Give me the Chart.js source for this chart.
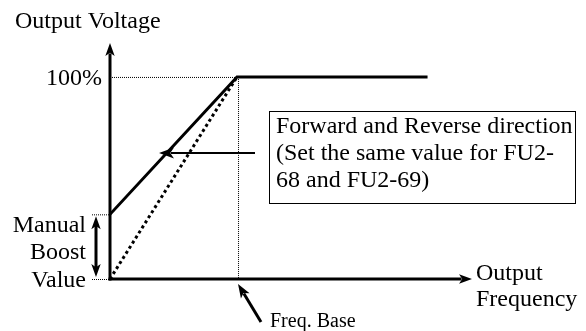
<!DOCTYPE html>
<html>
<head>
<meta charset="utf-8">
<script src="https://cdn.jsdelivr.net/npm/chart.js@4"></script>
<style>
  body { margin: 0; background: white; }
  canvas { display: block; }
</style>
</head>
<body>
<canvas id="chart" width="586" height="331"></canvas>
<script>
// frequency in % of base frequency, voltage in % of rated output
const boostFreq = [0, 100, 250]
const boostVolt = [32, 100, 100]
const linearFreq = [0, 100]
const linearVolt = [0, 100]
const boostValue = 32
const baseFreq = 100
const fullVolt = 100
const boxLines = ["Forward and Reverse direction", "(Set the same value for FU2-", "68 and FU2-69)"]

const toPoints = (xs, ys) => xs.map((x, i) => ({ x: x, y: ys[i] }))

const serif = "Liberation Serif, Times New Roman, serif"

function arrowHead(ctx, x, y, angle, size) {
  ctx.save()
  ctx.translate(x, y)
  ctx.rotate(angle)
  ctx.beginPath()
  ctx.moveTo(0, 0)
  ctx.lineTo(-size, -size * 0.36)
  ctx.lineTo(-size * 0.75, 0)
  ctx.lineTo(-size, size * 0.36)
  ctx.closePath()
  ctx.fill()
  ctx.restore()
}

function arrow(ctx, x1, y1, x2, y2, w, size) {
  const a = Math.atan2(y2 - y1, x2 - x1)
  ctx.lineWidth = w
  ctx.beginPath()
  ctx.moveTo(x1, y1)
  ctx.lineTo(x2 - Math.cos(a) * size * 0.8, y2 - Math.sin(a) * size * 0.8)
  ctx.stroke()
  arrowHead(ctx, x2, y2, a, size)
}

//Assi, guide e testi
const drawing = {
  id: "drawing",
  beforeDatasetsDraw(chart) {
    const { ctx, scales } = chart
    const x = scales.x, y = scales.y
    const x0 = x.getPixelForValue(0)
    const y0 = y.getPixelForValue(0)
    const xb = x.getPixelForValue(baseFreq)
    const yf = y.getPixelForValue(fullVolt)
    const yb = y.getPixelForValue(boostValue)
    ctx.save()
    ctx.strokeStyle = "black"
    ctx.fillStyle = "black"
    // dotted guides
    ctx.lineWidth = 1
    ctx.setLineDash([1, 1])
    ctx.beginPath()
    ctx.moveTo(x0 + 2, yf + 0.5); ctx.lineTo(xb, yf + 0.5)
    ctx.moveTo(xb + 1.5, yf); ctx.lineTo(xb + 1.5, y0)
    ctx.moveTo(x0 - 18, yb + 0.5); ctx.lineTo(x0, yb + 0.5)
    ctx.moveTo(x0 - 18, y0 + 0.5); ctx.lineTo(x0, y0 + 0.5)
    ctx.stroke()
    ctx.setLineDash([])
    // axes
    arrow(ctx, x0, y0 + 1.5, x0, chart.chartArea.top, 3, 13)
    arrow(ctx, x0 - 1.5, y0, chart.chartArea.right, y0, 3, 13)
    ctx.restore()
  },
  afterDatasetsDraw(chart) {
    const { ctx, scales } = chart
    const x = scales.x, y = scales.y
    const x0 = x.getPixelForValue(0)
    const y0 = y.getPixelForValue(0)
    const xb = x.getPixelForValue(baseFreq)
    const yf = y.getPixelForValue(fullVolt)
    const yb = y.getPixelForValue(boostValue)
    ctx.save()
    ctx.fillStyle = "black"
    ctx.strokeStyle = "black"
    // boost double arrow
    ctx.lineWidth = 3
    ctx.beginPath()
    ctx.moveTo(x0 - 14, yb + 10); ctx.lineTo(x0 - 14, y0 - 10)
    ctx.stroke()
    arrowHead(ctx, x0 - 14, yb + 2, -Math.PI / 2, 13)
    arrowHead(ctx, x0 - 14, y0 - 2, Math.PI / 2, 13)
    // pointer to the boost curve
    arrow(ctx, 255, 153, 159, 153, 2, 15)
    // freq base pointer
    arrow(ctx, 261, 322, xb + 1, y0 + 5, 3, 14)
    // text box
    ctx.lineWidth = 1
    ctx.fillStyle = "white"
    ctx.fillRect(269.5, 111.5, 306, 92)
    ctx.strokeRect(269.5, 111.5, 306, 92)
    ctx.fillStyle = "black"
    ctx.font = "24px " + serif
    ctx.textBaseline = "alphabetic"
    ctx.textAlign = "left"
    boxLines.forEach((t, i) => ctx.fillText(t, 276, 133 + i * 27))
    ctx.fillText("Output Voltage", 15, 28)
    ctx.fillText("Output", 476, 280)
    ctx.fillText("Frequency", 476, 306)
    ctx.textAlign = "right"
    ctx.fillText("100%", x0 - 8, yf + 8)
    ctx.fillText("Manual", 86, 232)
    ctx.fillText("Boost", 86, 259)
    ctx.fillText("Value", 86, 287)
    ctx.textAlign = "left"
    ctx.font = "20px " + serif
    ctx.fillText("Freq. Base", 270, 327)
    ctx.restore()
  },
}

new Chart(document.getElementById("chart"), {
  type: "scatter",
  plugins: [drawing],
  data: {
    datasets: [
      {
        data: toPoints(boostFreq, boostVolt),
        showLine: true,
        borderColor: "black",
        borderWidth: 3,
        pointRadius: 0,
      },
      {
        data: toPoints(linearFreq, linearVolt),
        showLine: true,
        borderColor: "black",
        borderWidth: 3,
        borderDash: [3, 3],
        pointRadius: 0,
      },
    ],
  },
  options: {
    responsive: false,
    animation: false,
    layout: { padding: { left: 110, right: 114, top: 43, bottom: 52 } },
    plugins: { legend: { display: false }, tooltip: { enabled: false } },
    scales: {
      x: { type: "linear", min: 0, max: 285, display: false },
      y: { type: "linear", min: 0, max: 116.8, display: false },
    },
  },
})
</script>
</body>
</html>
